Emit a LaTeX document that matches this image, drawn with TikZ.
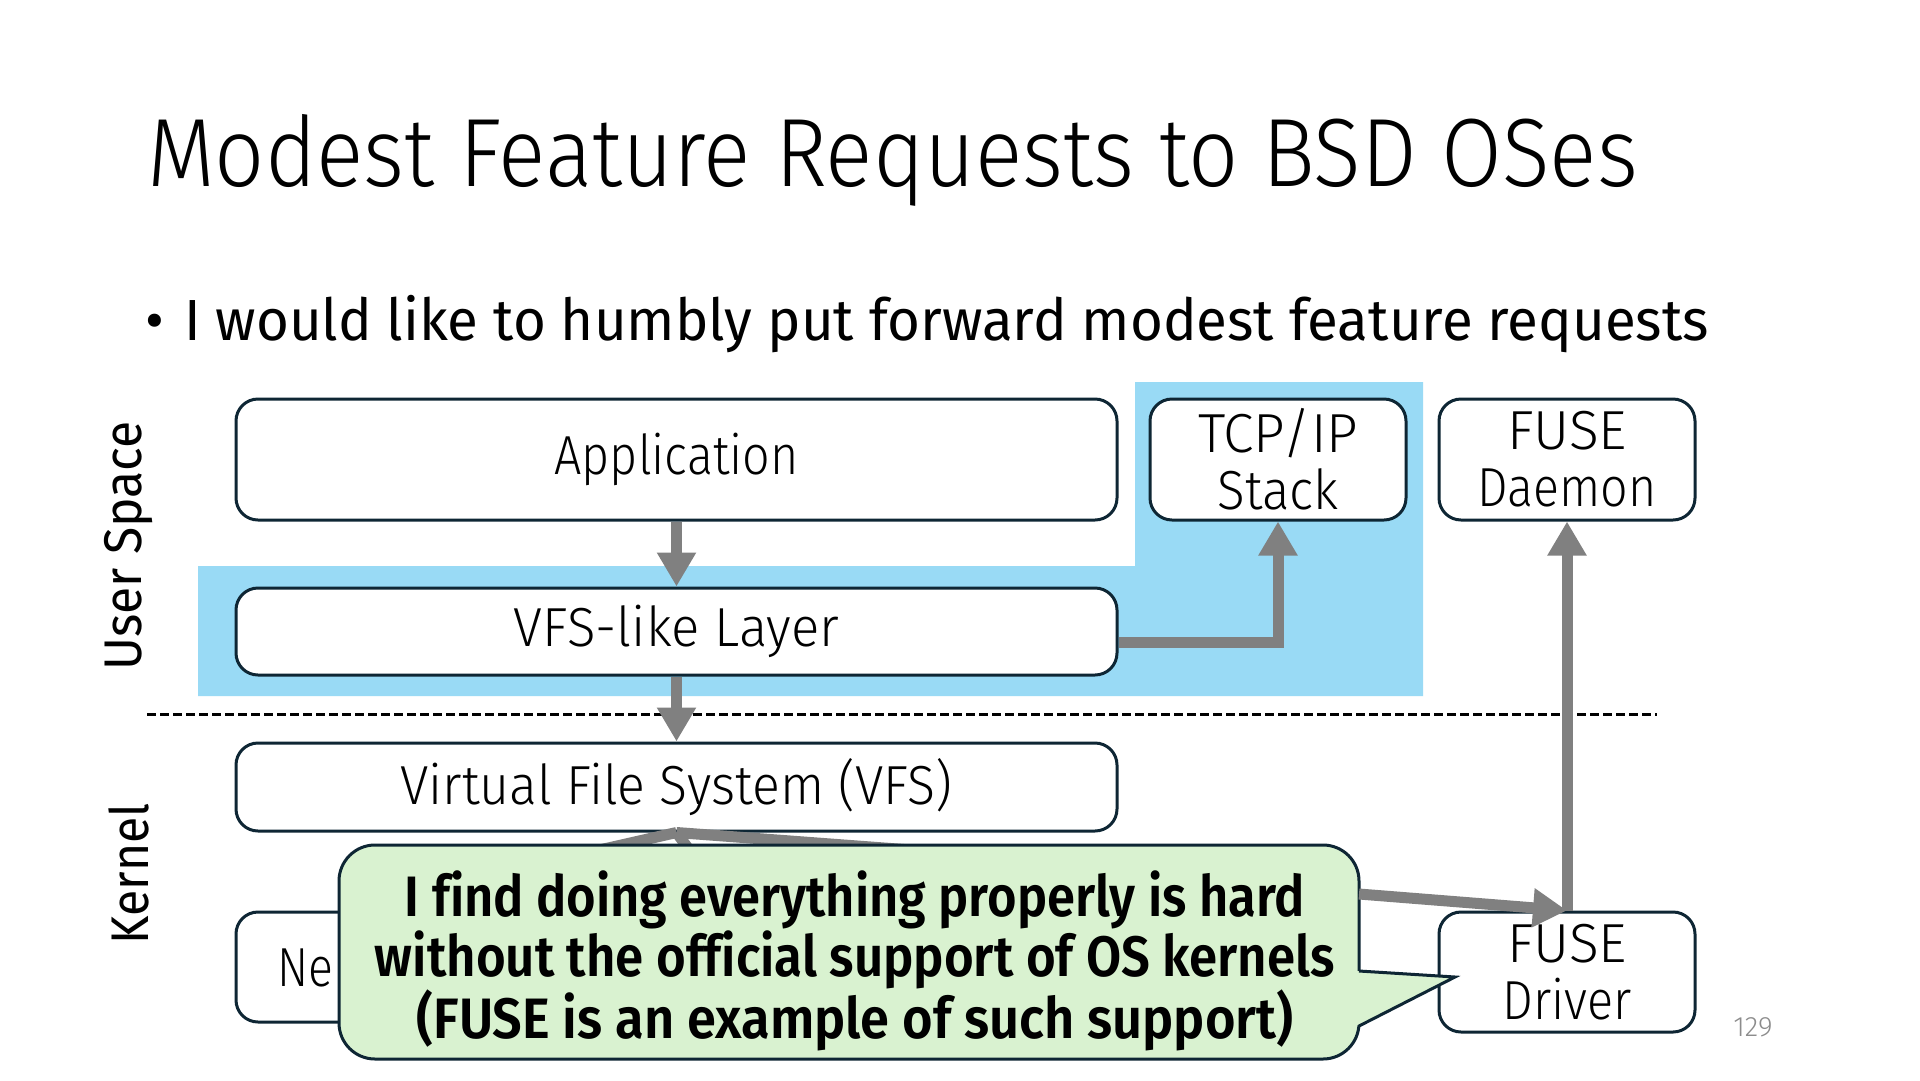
\documentclass[tikz,border=0pt]{standalone}
\usepackage{fontspec}
\usepackage{graphicx}
\usetikzlibrary{arrows.meta}
\setmainfont{Fira Sans Light}[Ligatures=CommonOff]
\newfontfamily\regfont{Fira Sans}[Ligatures=CommonOff]
\newfontfamily\calloutfont{Fira Sans SemiBold}[Ligatures=CommonOff]
\definecolor{bluebg}{RGB}{153,218,245}
\definecolor{greenbg}{RGB}{217,242,208}
\definecolor{boxline}{RGB}{14,38,52}
\definecolor{arrowgray}{RGB}{128,128,128}
\definecolor{pagegray}{RGB}{140,140,140}
\newcommand{\fitw}[2]{\resizebox{#1pt}{\height}{#2}}
\newcommand{\labelfont}{\fontsize{55}{57}\selectfont}
\begin{document}
\begin{tikzpicture}[x=1pt,y=-1pt,
  box/.style={draw=boxline, line width=3pt, rounded corners=22pt, fill=white, inner sep=0pt, align=center, font=\labelfont},
  garrow/.style={draw=arrowgray, line width=11pt, -{Triangle[width=37pt,length=34pt]}},
  fanline/.style={draw=arrowgray, line width=11pt},
  calloutbox/.style={draw=boxline, line width=3pt, rounded corners=36pt, fill=greenbg, inner sep=0pt},
  plain/.style={inner sep=0pt, outer sep=0pt}
]
\useasboundingbox (0,0) rectangle (1920,1080);
\fill[white] (0,0) rectangle (1920,1080);

% title and bullet
\node[plain, anchor=base west, font=\fontsize{97}{100}\selectfont] (title) at (147,186) {\fitw{1491}{Modest Feature Requests to BSD OSes}};
\node[plain, anchor=base west, font=\regfont\fontsize{58}{60}\selectfont] (bullet) at (145,340) {•};
\node[plain, anchor=base west, font=\regfont\fontsize{58}{60}\selectfont] (bullettext) at (184,340) {\fitw{1525}{I would like to humbly put forward modest feature requests}};

% blue region
\fill[bluebg] (198,566) -- (1135,566) -- (1135,382) -- (1423,382) -- (1423,696) -- (198,696) -- cycle;

% side labels
\node[plain, rotate=90, font=\regfont\fontsize{53}{55}\selectfont] (userspace) at (129,546) {\fitw{249}{User Space}};
\node[plain, rotate=90, font=\regfont\fontsize{53}{55}\selectfont] (kernel) at (129,874) {\fitw{141}{Kernel}};

% dashed separator
\coordinate (dashL) at (147,714);
\coordinate (dashR) at (1657,714);
\draw[black, line width=3pt, dash pattern=on 9pt off 4pt] (dashL) -- (dashR);

% boxes
\node[box, minimum width=881pt, minimum height=121pt] (app) at (676.5,459.5) {\fitw{244}{Application}};
\node[box, minimum width=256pt, minimum height=121pt] (tcp) at (1278,459.5) {\fitw{160}{TCP/IP}\\\fitw{121}{Stack}};
\node[box, minimum width=256pt, minimum height=121pt] (fused) at (1567,459.5) {\fitw{120}{FUSE}\\\fitw{179}{Daemon}};
\node[box, minimum width=881pt, minimum height=87pt] (vfsl) at (676.5,631.5) {\fitw{325}{VFS-like Layer}};
\node[box, minimum width=881pt, minimum height=88pt] (vfs) at (676.5,787) {\fitw{552}{Virtual File System (VFS)}};
\node[box, minimum width=500pt, minimum height=110pt] (ne) at (486,967) {};
\node[plain, anchor=base west, font=\labelfont] (netext) at (277,986) {\fitw{56}{Ne}};
\node[box, minimum width=256pt, minimum height=120pt] (fusedrv) at (1567,972) {\fitw{120}{FUSE}\\\fitw{129}{Driver}};

% arrows
\draw[garrow] (app.south) -- (vfsl.north);
\draw[garrow] (vfsl.south) -- (vfs.north);
\coordinate (vfslout) at (vfsl.east |- 0,642);
\draw[garrow] (vfslout) -- (1278,642) -- (tcp.south);
\draw[garrow] (fusedrv.north) -- (fused.south);

% fan from VFS (ends hidden under the callout)
\coordinate (fanA) at (476,878);
\coordinate (fanB) at (710,878);
\coordinate (fanC) at (1286,878);
\draw[fanline] (vfs.south) -- (fanA);
\draw[fanline] (vfs.south) -- (fanB);
\draw[fanline] (vfs.south) -- (fanC);

% callout
\node[calloutbox, minimum width=1020pt, minimum height=214pt] (cb) at (849,952) {};
\coordinate (ptrA) at (1359,971);
\coordinate (ptrTip) at (1455,977);
\coordinate (ptrB) at (1359,1026);
\fill[greenbg] ([xshift=-3pt]ptrA) -- (ptrTip) -- ([xshift=-3pt]ptrB) -- cycle;
\draw[boxline, line width=3pt, line join=miter] (ptrA) -- (ptrTip) -- (ptrB);
\node[plain, align=center, font=\calloutfont\fontsize{57}{57}\selectfont] (ct) at (855,961)
  {\fitw{900}{I find doing everything properly is hard}\\
   \fitw{960}{without the official support of OS kernels}\\
   \fitw{877}{(FUSE is an example of such support)}};

\coordinate (cbout) at (1359,894);
\draw[garrow] (cbout) -- (fusedrv.north);

% page number
\node[plain, anchor=base, font=\fontsize{28}{30}\selectfont, text=pagegray] (pg) at (1753,1036) {129};
\end{tikzpicture}
\end{document}
